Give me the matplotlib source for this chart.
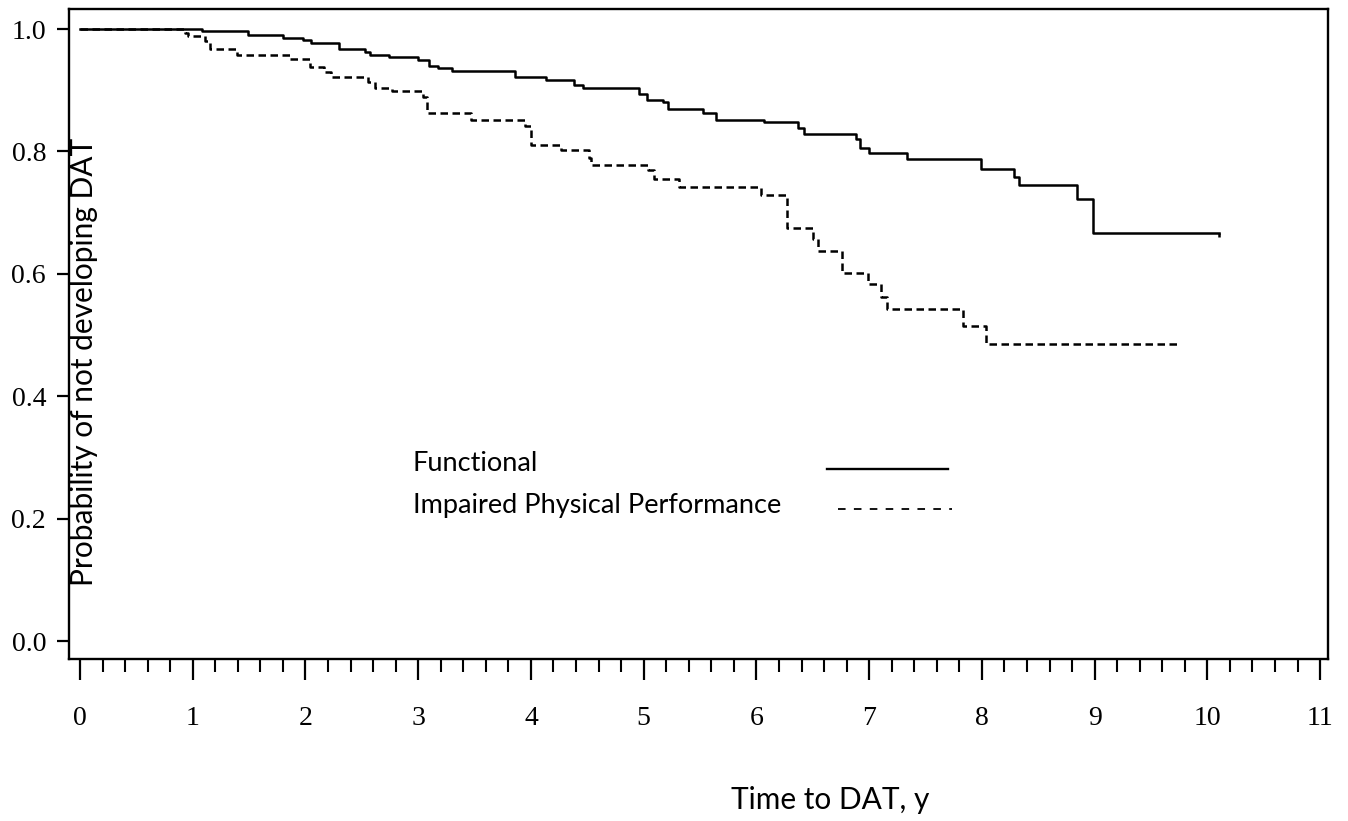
import matplotlib
matplotlib.use('Agg')
import matplotlib.pyplot as plt
from matplotlib.ticker import MultipleLocator
from matplotlib.lines import Line2D

# Kaplan-Meier steps (time in years, survival prob)
func_t = [0.0, 1.083, 1.491, 1.801, 1.978, 2.050, 2.298, 2.529, 2.573, 2.742,
          2.999, 3.097, 3.177, 3.301, 3.860, 4.135, 4.383, 4.463, 4.960, 5.031,
          5.173, 5.217, 5.528, 5.643, 6.069, 6.371, 6.424, 6.886, 6.921, 7.001,
          7.338, 7.995, 8.288, 8.332, 8.847, 8.988, 10.106]
func_s = [1.000, 0.996, 0.991, 0.985, 0.982, 0.977, 0.967, 0.963, 0.958, 0.954,
          0.949, 0.940, 0.936, 0.931, 0.922, 0.917, 0.909, 0.903, 0.894, 0.884,
          0.880, 0.870, 0.862, 0.852, 0.848, 0.838, 0.829, 0.820, 0.805, 0.797,
          0.788, 0.772, 0.759, 0.745, 0.723, 0.667, 0.667]

impair_t = [0.0, 0.932, 0.958, 1.109, 1.153, 1.393, 1.863, 2.041, 2.165, 2.227,
            2.555, 2.618, 2.768, 3.043, 3.079, 3.469, 3.949, 4.002, 4.268, 4.516,
            4.534, 5.040, 5.093, 5.315, 6.043, 6.273, 6.504, 6.548, 6.761, 6.992,
            7.107, 7.161, 7.835, 8.039, 9.760]
impair_s = [1.000, 0.994, 0.988, 0.980, 0.967, 0.958, 0.951, 0.938, 0.929, 0.922,
            0.913, 0.903, 0.898, 0.889, 0.862, 0.852, 0.842, 0.810, 0.802, 0.790,
            0.777, 0.769, 0.755, 0.742, 0.728, 0.675, 0.657, 0.638, 0.602, 0.583,
            0.562, 0.542, 0.514, 0.486, 0.486]

labels = ['Functional', 'Impaired Physical Performance']
y_ticks = [0.0, 0.2, 0.4, 0.6, 0.8, 1.0]
x_ticks = list(range(0, 12))

SERIF = 'Liberation Serif'
SANS = 'Lato'

fig = plt.figure(figsize=(13.48, 8.21), dpi=100)
ax = fig.add_axes([69/1348, 1 - 659/821, (1328 - 69)/1348, (659 - 9)/821])

ax.plot(func_t, func_s, drawstyle='steps-post', color='black', lw=1.8)
ax.plot(impair_t, impair_s, drawstyle='steps-post', color='black', lw=1.8,
        linestyle=(0, (3.0, 1.8)))
# censor tick (pointing down) at the end of the functional curve
ax.plot([func_t[-1]], [func_s[-1]], marker=3, ms=3, mew=1.8, color='black')

ax.set_xlim(-0.0976, 11.07)
ax.set_ylim(-0.0294, 1.0327)

ax.set_xticks(x_ticks)
ax.xaxis.set_minor_locator(MultipleLocator(0.2))
ax.set_yticks(y_ticks)
ax.set_yticklabels([f'{v:.1f}' for v in y_ticks])
ax.tick_params(axis='x', which='major', length=15, width=1.6, pad=19,
               labelsize=20, direction='out')
ax.tick_params(axis='x', which='minor', length=9, width=1.5, direction='out')
ax.tick_params(axis='y', which='major', length=8.5, width=1.6, pad=8,
               labelsize=20, direction='out')
for lab in ax.get_xticklabels() + ax.get_yticklabels():
    lab.set_fontfamily(SERIF)
for sp in ax.spines.values():
    sp.set_linewidth(1.7)

# legend drawn as text + key lines, like the original
ax.text(0.2732, 0.3015, labels[0], transform=ax.transAxes, fontsize=19.5,
        family=SANS, va='center', ha='left')
ax.text(0.2732, 0.2354, labels[1], transform=ax.transAxes, fontsize=19.5,
        family=SANS, va='center', ha='left')
ax.add_line(Line2D([0.602, 0.698], [0.2923, 0.2923], transform=ax.transAxes,
                   color='black', lw=1.7))
ax.add_line(Line2D([0.6108, 0.7013], [0.2308, 0.2308], transform=ax.transAxes,
                   color='black', lw=1.3, linestyle=(0, (4.2, 4.6))))

fig.text(84/1348, 1 - 362/821, 'Probability of not developing DAT',
         rotation=90, ha='center', va='center', fontsize=21.5, family=SANS)
fig.text(830/1348, 1 - 800/821, 'Time to DAT, y', ha='center', va='center',
         fontsize=21.5, family=SANS)

fig.savefig('out.png', dpi=100)
